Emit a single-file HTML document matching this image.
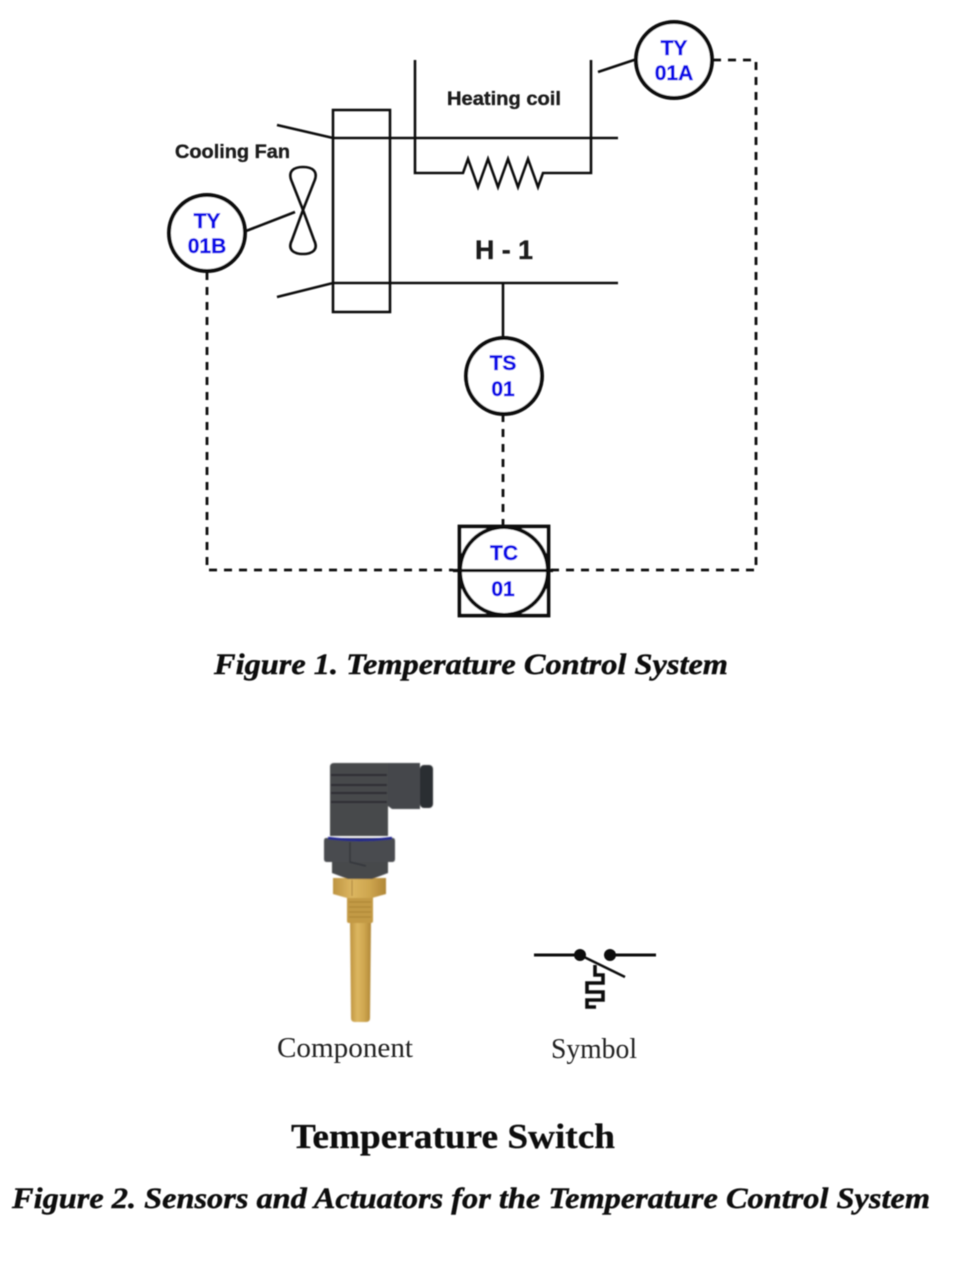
<!DOCTYPE html>
<html><head><meta charset="utf-8"><style>
html,body{margin:0;padding:0;background:#fff}
svg{display:block}
.b{font-family:"Liberation Sans",sans-serif;font-weight:bold;fill:#1a1a1a;stroke:#1a1a1a;stroke-width:.35}
.t{font-family:"Liberation Sans",sans-serif;font-weight:bold;fill:#1010e8;stroke:#1010e8;stroke-width:.5;font-size:21px;text-anchor:middle}
.c{font-family:"Liberation Serif",serif;font-weight:bold;font-style:italic;font-size:30px;fill:#111;stroke:#111;stroke-width:.45}
.s{font-family:"Liberation Serif",serif;font-size:28px;fill:#222}
.l{fill:none;stroke:#111;stroke-width:2.6}
.d{fill:none;stroke:#111;stroke-width:2.800;stroke-dasharray:8 7}
.k{fill:#fff;stroke:#111;stroke-width:4}
</style></head><body>
<svg width="973" height="1264" viewBox="0 0 973 1264" xmlns="http://www.w3.org/2000/svg">
<defs>
<filter id="bl" filterUnits="userSpaceOnUse" x="0" y="0" width="973" height="1264"><feGaussianBlur stdDeviation="0.8"/></filter>
<filter id="soft" filterUnits="userSpaceOnUse" x="0" y="0" width="973" height="1264"><feGaussianBlur stdDeviation="0.4"/></filter>
<linearGradient id="brass" x1="0" x2="1" y1="0" y2="0"><stop offset="0" stop-color="#bd9340"/><stop offset=".35" stop-color="#dcb660"/><stop offset=".7" stop-color="#cda54e"/><stop offset="1" stop-color="#b08636"/></linearGradient>
</defs>

<g filter="url(#soft)">
<!-- Figure 1 -->
<rect class="l" x="333" y="110" width="57" height="202"/>
<path class="l" d="M277 125L333 138H618"/>
<path class="l" d="M277 297L333 283H618"/>
<path class="l" d="M415 60V173H463L468 159L478 187L488 159L498 187L508 159L518 187L528 159L538 187L543 173H591V60"/>
<path class="l" d="M598 72L637 59"/>
<path class="l" d="M246 231L295 212"/>
<path class="l" d="M303 210L292 182C287 171 294 167 303 167C312 167 319 171 314 182L303 210L314 240C319 250 312 254 303 254C294 254 287 250 292 240Z"/>
<path class="l" d="M503 284V338"/>

<path class="d" d="M713 60H756V570H549"/>
<path class="d" d="M207 272V566"/>
<path class="d" d="M209 570H453"/>
<path class="d" d="M503 414V526"/>

<circle class="k" cx="674" cy="60" r="38"/>
<circle class="k" cx="207" cy="233" r="38"/>
<circle class="k" cx="504" cy="376" r="38"/>
<rect x="459.500" y="526.500" width="89" height="89" fill="#fff" stroke="#111" stroke-width="3.800"/>
<circle class="k" cx="504" cy="571" r="44"/>
<path d="M453 570.500H553" stroke="#111" stroke-width="3.200" fill="none"/>

<text class="t" x="674" y="55">TY</text><text class="t" x="674" y="80">01A</text>
<text class="t" x="207" y="228">TY</text><text class="t" x="207" y="253">01B</text>
<text class="t" x="503" y="370">TS</text><text class="t" x="503" y="396">01</text>
<text class="t" x="504" y="560">TC</text><text class="t" x="503" y="596">01</text>

<text class="b" x="447" y="105" font-size="19.500" textLength="114" lengthAdjust="spacingAndGlyphs">Heating coil</text>
<text class="b" x="175" y="158" font-size="19.500" textLength="115" lengthAdjust="spacingAndGlyphs">Cooling Fan</text>
<text class="b" x="475" y="259" font-size="27" textLength="58" lengthAdjust="spacingAndGlyphs">H - 1</text>

<text class="c" x="214" y="674" textLength="514" lengthAdjust="spacingAndGlyphs">Figure 1. Temperature Control System</text>

<!-- Symbol -->
<path d="M534 955H580M610 955H656" stroke="#111" stroke-width="3" fill="none"/>
<circle cx="580" cy="955" r="6" fill="#111"/>
<circle cx="610" cy="955" r="6" fill="#111"/>
<path d="M582 956L625 977" stroke="#111" stroke-width="2.600" fill="none"/>
<path d="M595 965V975H603V983H587V992H603V1000H587V1007H596" stroke="#111" stroke-width="3.600" fill="none"/>

<text class="s" x="277" y="1057" textLength="136" lengthAdjust="spacingAndGlyphs">Component</text>
<text class="s" x="551" y="1058" textLength="86" lengthAdjust="spacingAndGlyphs">Symbol</text>

<text x="291" y="1148" font-family="'Liberation Serif',serif" font-weight="bold" font-size="35" fill="#111" stroke="#111" stroke-width=".3" textLength="324" lengthAdjust="spacingAndGlyphs">Temperature Switch</text>
<text class="c" x="12" y="1208" textLength="918" lengthAdjust="spacingAndGlyphs">Figure 2. Sensors and Actuators for the Temperature Control System</text>
</g>

<!-- Component -->
<g filter="url(#bl)">
<path d="M350 922H371L370 1018Q370 1022 366 1022H355Q351 1022 351 1018Z" fill="url(#brass)"/>
<rect x="347" y="896" width="26" height="27" rx="2" fill="#c39a45"/>
<path d="M349 902H371M349 907H371M349 912H371M349 917H371" stroke="#a98232" stroke-width="1" fill="none"/>
<path d="M333 878H386V894L372 898H347L333 894Z" fill="url(#brass)"/>
<path d="M332 860H388V873L372 879H348L332 873Z" fill="#46484c"/>
<path d="M326 838H393Q395 838 395 841V859Q395 862 392 862H327Q324 862 324 859V841Q324 838 326 838Z" fill="#4a4c50"/>
<path d="M330 767Q330 763 334 763H388V836H330Z" fill="#46484c"/>
<path d="M388 763H420V809H392L388 806Z" fill="#45474b"/>
<rect x="420" y="765" width="13" height="43" rx="4" fill="#2c2e32"/>
<path d="M331 775H387M331 785H387M331 793H387M331 802H387" stroke="#2a2c30" stroke-width="2" fill="none"/>
<path d="M328 838Q360 842 392 838" stroke="#20268f" stroke-width="2.500" fill="none"/>
<path d="M350 842V862L366 866" stroke="#33363a" stroke-width="1.500" fill="none"/>
<path d="M352 880V896" stroke="#a8803a" stroke-width="1" fill="none"/>
</g>
</svg>
</body></html>
